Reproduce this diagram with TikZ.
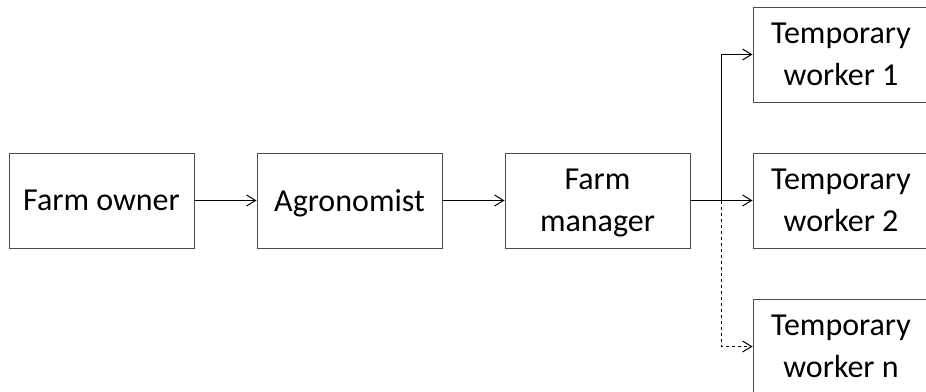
\documentclass[tikz,border=0pt]{standalone}
\usepackage{fontspec}
\setmainfont{Carlito}
\usetikzlibrary{positioning,arrows.meta}

\begin{document}
\begin{tikzpicture}[x=1pt, y=1pt, line width=1pt,
  >={Straight Barb[length=9pt,width=11pt]},
  role/.style={draw=black!70, minimum width=185pt, minimum height=95pt,
    align=center, inner sep=0pt, text depth=0pt,
    font=\fontsize{32}{42}\selectfont},
  worker/.style={role, minimum width=176pt}]
\useasboundingbox (0,0) rectangle (926,-391);

\node[role] (owner) at (101.5,-200.5) {Farm owner};
\node[role, right=62pt of owner] (agro) {Agronomist};
\node[role, right=62pt of agro] (manager) {Farm\\manager};
\node[worker, right=62pt of manager] (worker2) {Temporary\\worker 2};
\node[worker, above=50pt of worker2] (worker1) {Temporary\\worker 1};
\node[worker, below=50pt of worker2] (workern) {Temporary\\worker n};

\coordinate (fork) at ([xshift=31pt]manager.east);

\draw[->] (owner) -- (agro);
\draw[->] (agro) -- (manager);
\draw[->] (manager) -- (worker2);
\draw[->] (fork) |- (worker1);
\draw[->, dashed] (fork) |- (workern);
\end{tikzpicture}
\end{document}
